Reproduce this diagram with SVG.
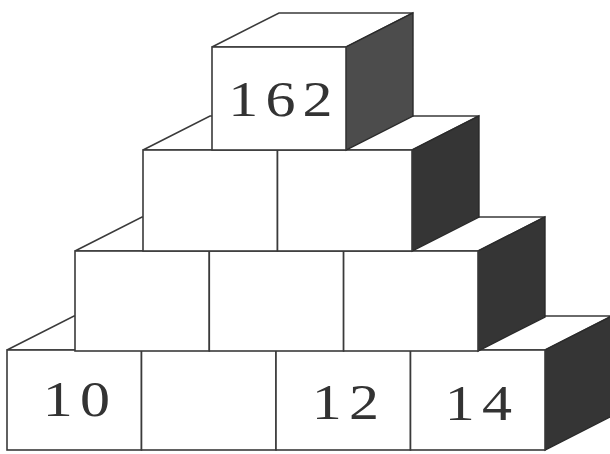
<svg xmlns="http://www.w3.org/2000/svg" width="610" height="454" viewBox="0 0 610 454">
<style>
.f{fill:#fff;stroke:#3a3a3a;stroke-width:1.6;stroke-linejoin:miter}
.t{fill:#fff;stroke:#3a3a3a;stroke-width:1.6}
.s{fill:#353535;stroke:#2a2a2a;stroke-width:1.4}
.s1{fill:#4c4c4c;stroke:#2a2a2a;stroke-width:1.4}
.n{font-family:"Liberation Serif","Times New Roman",serif;font-size:50px;fill:#333;text-anchor:middle;letter-spacing:6px}
</style>
<rect width="610" height="454" fill="#fff"/>
<g id="row4">
<polygon class="t" points="7,350 74,316 612,316 545,350"/>
<polygon class="s" points="545,350 612,316 612,416 545,450"/>
<g id="b1"><rect class="f" x="7" y="350" width="134.5" height="100"/><text class="n" transform="translate(80,416) scale(1.2,1)">10</text></g>
<g id="b2"><rect class="f" x="141.5" y="350" width="134.5" height="100"/></g>
<g id="b3"><rect class="f" x="276" y="350" width="134.5" height="100"/><text class="n" transform="translate(349,419) scale(1.2,1)">12</text></g>
<g id="b4"><rect class="f" x="410.5" y="350" width="134.5" height="100"/><text class="n" transform="translate(482,420) scale(1.2,1)">14</text></g>
</g>
<g id="row3">
<polygon class="t" points="75,251 142,217 545,217 478,251"/>
<polygon class="s" points="478,251 545,217 545,317 478,351"/>
<g id="c1"><rect class="f" x="75" y="251" width="134.3" height="100"/></g>
<g id="c2"><rect class="f" x="209.3" y="251" width="134.3" height="100"/></g>
<g id="c3"><rect class="f" x="343.6" y="251" width="134.4" height="100"/></g>
</g>
<g id="row2">
<polygon class="t" points="143,150 210,116 479,116 412,150"/>
<polygon class="s" points="412,150 479,116 479,217 412,251"/>
<g id="d1"><rect class="f" x="143" y="150" width="134.5" height="101"/></g>
<g id="d2"><rect class="f" x="277.5" y="150" width="134.5" height="101"/></g>
</g>
<g id="row1">
<polygon class="t" points="212,47 279,13 413,13 346,47"/>
<polygon class="s1" points="346,47 413,13 413,116 346,150"/>
<g id="e1"><rect class="f" x="212" y="47" width="134" height="103"/><text class="n" transform="translate(284,116) scale(1.2,1)">162</text></g>
</g>
</svg>
